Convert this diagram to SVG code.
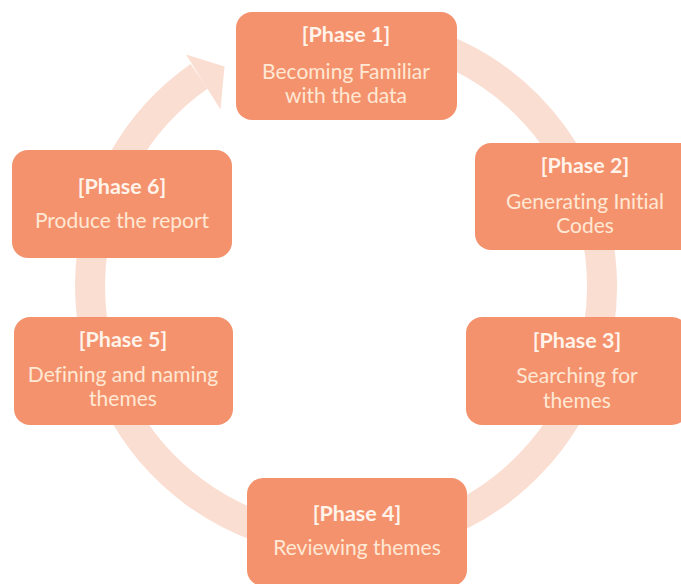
<svg xmlns="http://www.w3.org/2000/svg" width="681" height="584" viewBox="0 0 681 584">
  <style>
    .ring { fill: none; stroke: #FBDED2; stroke-width: 30; }
    .head { fill: #FBDED2; }
    .box { fill: #F4926E; }
    .title { font-family: Lato, "Liberation Sans", sans-serif; font-size: 21.5px; font-weight: bold; fill: #FFF3EA; text-anchor: middle; font-variant-ligatures: none; }
    .body { font-family: Lato, "Liberation Sans", sans-serif; font-size: 21px; fill: #FFE8D4; text-anchor: middle; font-variant-ligatures: none; }
  </style>
  <rect width="681" height="584" fill="#FFFFFF"/>

  <!-- continuous cycle arrow -->
  <g id="connectors">
    <path class="ring" d="M 346 30 A 256 256 0 1 1 199.2 76.3"/>
    <polygon class="head" points="186,54.5 224.5,66.5 220.5,109.5"/>
  </g>

  <g id="phase1">
    <rect class="box" x="236" y="12" width="221" height="108" rx="16"/>
    <text class="title" x="346" y="42">[Phase 1]</text>
    <text class="body" x="346" y="79">Becoming Familiar</text>
    <text class="body" x="346" y="103">with the data</text>
  </g>

  <g id="phase2">
    <rect class="box" x="475" y="143" width="221" height="107" rx="16"/>
    <text class="title" x="585" y="173">[Phase 2]</text>
    <text class="body" x="585" y="209">Generating Initial</text>
    <text class="body" x="585" y="233">Codes</text>
  </g>

  <g id="phase3">
    <rect class="box" x="466" y="317" width="222" height="108" rx="16"/>
    <text class="title" x="577" y="348">[Phase 3]</text>
    <text class="body" x="577" y="383">Searching for</text>
    <text class="body" x="577" y="408">themes</text>
  </g>

  <g id="phase4">
    <rect class="box" x="247" y="478" width="220" height="108" rx="16"/>
    <text class="title" x="357" y="521">[Phase 4]</text>
    <text class="body" x="357" y="555">Reviewing themes</text>
  </g>

  <g id="phase5">
    <rect class="box" x="14" y="317" width="219" height="108" rx="16"/>
    <text class="title" x="123" y="347">[Phase 5]</text>
    <text class="body" x="123" y="382">Defining and naming</text>
    <text class="body" x="123" y="406">themes</text>
  </g>

  <g id="phase6">
    <rect class="box" x="12" y="150" width="220" height="108" rx="16"/>
    <text class="title" x="122" y="194">[Phase 6]</text>
    <text class="body" x="122" y="228">Produce the report</text>
  </g>
</svg>
